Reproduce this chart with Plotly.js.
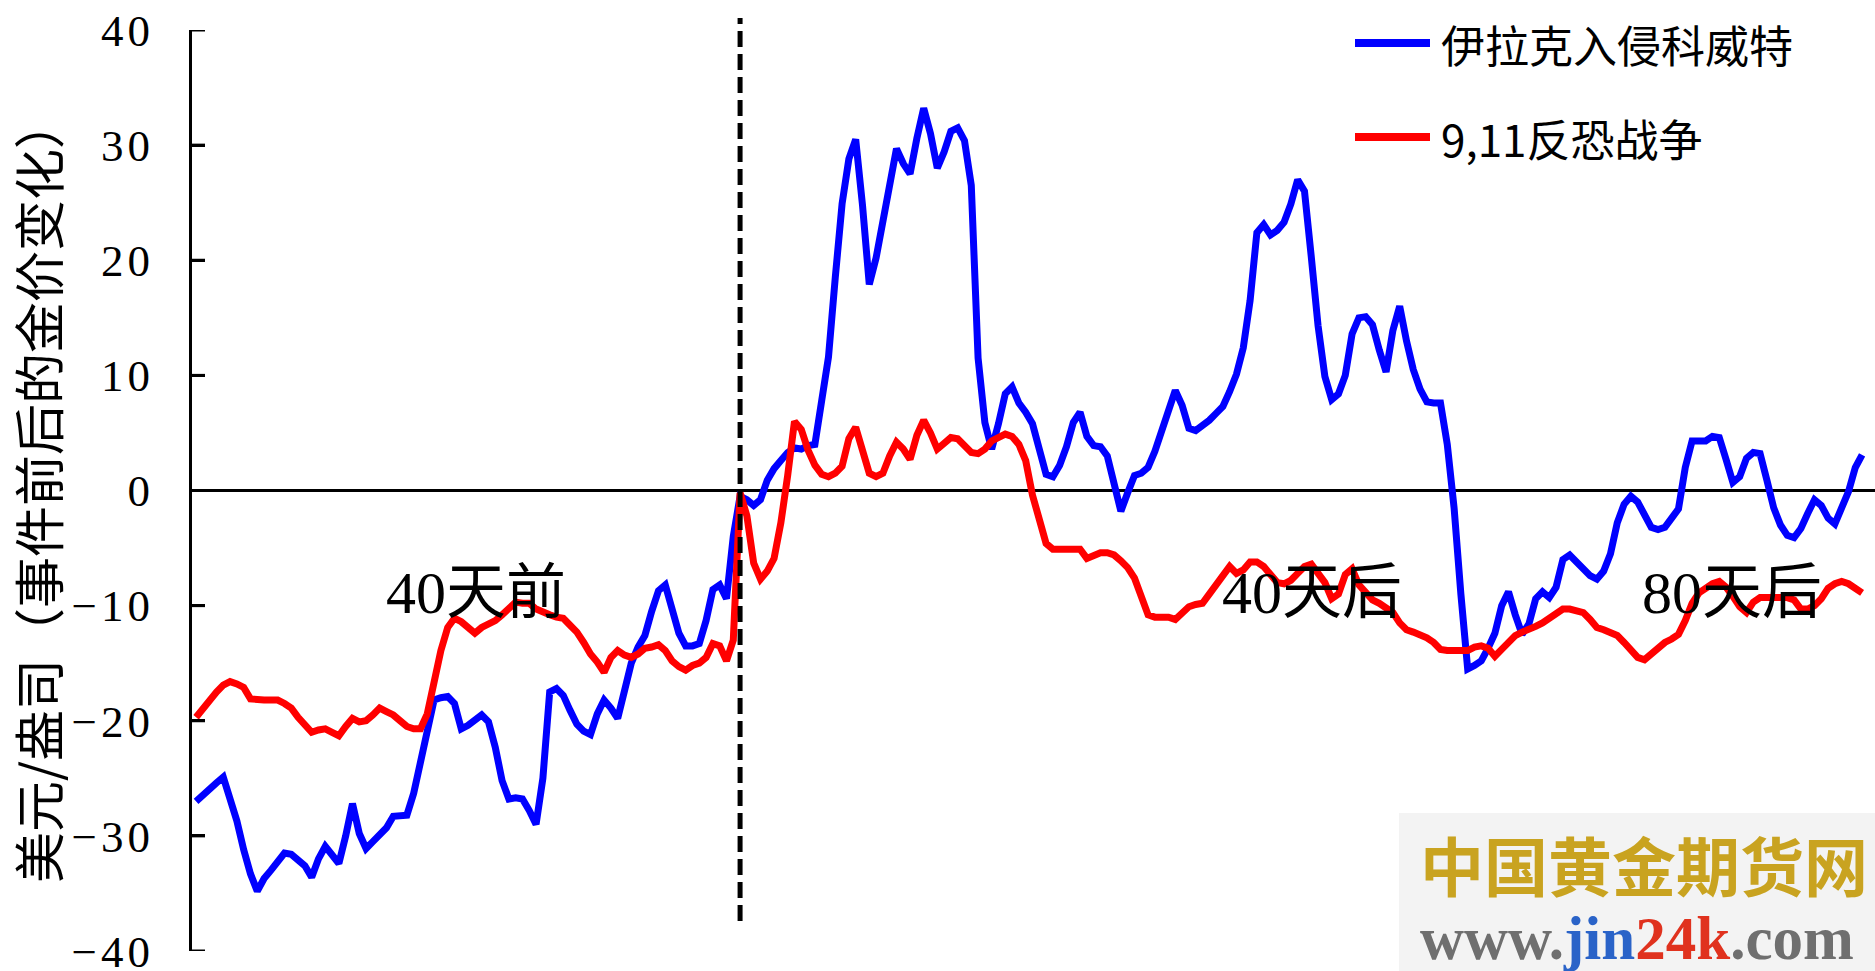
<!DOCTYPE html>
<html>
<head>
<meta charset="utf-8">
<script src="https://cdn.plot.ly/plotly-3.0.1.min.js"></script>
<style>
  html, body { margin: 0; padding: 0; background: #ffffff; }
  #chart { width: 1875px; height: 971px; }
  .yaxislayer-above text { letter-spacing: 4px; }
</style>
</head>
<body>
<div id="chart"></div>
<script>
// ---- data ----
// day offset of the first sample relative to the event (dashed line = day 0)
const firstDay = -80;

const seriesNames = ['伊拉克入侵科威特', '9,11反恐战争'];
const seriesColors = ['#0000ff', '#ff0000'];

// Iraq invades Kuwait: gold price change (USD/oz) around the event
const iraqKuwait = [
  -27.0, -26.4, -25.9, -25.4, -24.9, -26.6, -28.7, -31.2, -33.3, -34.8,
  -33.7, -33.0, -32.3, -31.5, -31.6, -32.1, -32.6, -33.6, -32.0, -30.9,
  -31.7, -32.4, -30.0, -27.2, -29.8, -31.1, -30.5, -29.8, -29.3, -28.3,
  -28.3, -28.2, -26.3, -23.4, -20.5, -18.2, -18.0, -17.9, -18.5, -20.7,
  -20.4, -20.0, -19.5, -20.1, -22.3, -25.2, -26.8, -26.7, -26.8, -27.8,
  -29.0, -25.0, -17.5, -17.2, -17.8, -19.1, -20.3, -20.9, -21.2, -19.4,
  -18.2, -18.9, -19.8, -17.4, -15.0, -13.6, -12.6, -10.5, -8.7, -8.2,
  -10.1, -12.4, -13.5, -13.5, -13.3, -11.3, -8.6, -8.2, -9.4, -4.0,
  -0.5, -0.8, -1.3, -0.8, 0.9, 1.9, 2.6, 3.3, 3.7, 3.6, 3.9,
  4.0, 7.8, 11.6, 18.5, 24.9, 28.8, 30.5, 24.8, 17.9, 20.2,
  23.6, 26.9, 29.7, 28.4, 27.5, 30.6, 33.2, 31.0, 28.0, 29.4,
  31.2, 31.5, 30.4, 26.5, 11.5, 5.9, 3.6, 5.8, 8.4, 9.0,
  7.6, 6.8, 5.8, 3.6, 1.4, 1.2, 2.2, 3.8, 5.9, 6.8,
  4.7, 3.9, 3.8, 3.0, 0.3, -1.8, -0.2, 1.3, 1.5, 2.0,
  3.4, 5.3, 7.3, 8.7, 7.4, 5.4, 5.2, 5.6, 6.1, 6.7,
  7.3, 8.6, 10.1, 12.4, 16.5, 22.4, 23.1, 22.2, 22.6, 23.3,
  24.9, 27.0, 26.0, 20.3, 14.3, 9.9, 7.9, 8.4, 10.0, 13.6,
  15.0, 15.1, 14.4, 12.2, 10.3, 13.9, 16.0, 13.0, 10.5, 8.8,
  7.7, 7.6, 7.6, 4.0, -1.5, -9.0, -15.5, -15.2, -14.8, -13.7,
  -12.4, -10.0, -8.8, -10.8, -12.5, -11.6, -9.4, -8.8, -9.3, -8.4,
  -6.0, -5.6, -6.2, -6.8, -7.4, -7.7, -7.0, -5.5, -2.8, -1.2,
  -0.5, -1.0, -2.1, -3.2, -3.4, -3.2, -2.4, -1.6, 2.0, 4.3,
  4.3, 4.3, 4.7, 4.6, 2.7, 0.7, 1.2, 2.8, 3.3, 3.2,
  0.9, -1.5, -3.0, -3.9, -4.1, -3.3, -2.0, -0.8, -1.3, -2.4,
  -2.9, -1.6, -0.1, 2.0, 3.1
];

// 9.11 anti-terror war: gold price change (USD/oz) around the event
const antiTerror = [
  -19.7, -18.9, -18.2, -17.5, -16.9, -16.6, -16.8, -17.1, -18.1, -18.2,
  -18.2, -18.2, -18.2, -18.5, -18.9, -19.7, -20.4, -21.0, -20.8, -20.7,
  -21.0, -21.3, -20.5, -19.8, -20.1, -20.0, -19.5, -18.9, -19.2, -19.5,
  -20.0, -20.5, -20.7, -20.7, -19.4, -16.5, -13.9, -11.9, -11.1, -11.4,
  -12.0, -12.4, -11.9, -11.6, -11.3, -10.8, -10.3, -9.7, -9.8, -9.8,
  -10.3, -10.6, -10.8, -11.0, -11.1, -11.7, -12.3, -13.2, -14.2, -14.9,
  -15.8, -14.5, -13.9, -14.3, -14.5, -14.2, -13.7, -13.6, -13.4, -13.9,
  -14.8, -15.3, -15.6, -15.2, -15.0, -14.5, -13.3, -13.5, -14.8, -13.0,
  -0.2, -2.2, -6.3, -7.7, -7.0, -5.9, -2.8, 1.3, 6.0, 5.3, 3.5,
  2.2, 1.4, 1.2, 1.5, 2.1, 4.5, 5.5, 3.5, 1.5, 1.2,
  1.5, 3.0, 4.2, 3.6, 2.7, 4.8, 6.1, 5.0, 3.6, 4.1,
  4.6, 4.5, 3.8, 3.3, 3.2, 3.6, 4.3, 4.6, 4.9, 4.7,
  4.0, 2.6, -0.4, -2.5, -4.6, -5.1, -5.1, -5.1, -5.1, -5.1,
  -5.9, -5.6, -5.4, -5.4, -5.6, -6.1, -6.7, -7.6, -9.2, -10.8,
  -11.0, -11.0, -11.0, -11.2, -10.7, -10.1, -9.9, -9.8, -9.0, -8.2,
  -7.4, -6.6, -7.2, -6.9, -6.2, -6.2, -6.6, -7.4, -8.0, -8.1,
  -7.8, -7.2, -6.6, -6.4, -7.3, -8.0, -9.4, -9.0, -7.3, -6.8,
  -8.2, -8.9, -9.5, -9.8, -10.2, -10.6, -11.5, -12.1, -12.3, -12.5,
  -12.8, -13.2, -13.8, -13.9, -13.9, -13.9, -13.9, -13.6, -13.5, -13.7,
  -14.4, -13.8, -13.1, -12.6, -12.3, -12.1, -11.8, -11.5, -11.1, -10.7,
  -10.3, -10.3, -10.4, -10.6, -11.2, -11.9, -12.1, -12.3, -12.6, -13.2,
  -13.8, -14.5, -14.7, -14.2, -13.7, -13.2, -12.9, -12.5, -11.3, -9.8,
  -8.9, -8.5, -8.1, -7.9, -8.4, -9.2, -10.1, -10.6, -9.7, -9.3,
  -9.3, -9.3, -9.3, -9.3, -9.5, -10.3, -10.3, -10.0, -9.4, -8.5,
  -8.1, -7.9, -8.1, -8.5, -8.9
];

const phaseLabels = ['40天前', '40天后', '80天后'];
const yTickValues = [-40, -30, -20, -10, 0, 10, 20, 30, 40];
const yTitle = '美元/盎司（事件前后的金价变化）';
const watermarkTitle = '中国黄金期货网';

// ---- build chart ----
const days = iraqKuwait.map((_, i) => firstDay + i);
const seriesValues = [iraqKuwait, antiTerror];

const traces = seriesValues.map((vals, k) => ({
  type: 'scatter',
  mode: 'lines',
  name: seriesNames[k],
  x: days,
  y: vals,
  line: { color: seriesColors[k], width: 7 },
  hoverinfo: 'x+y+name'
}));

// plot-area geometry (px) used to place layout items in paper units
const W = 1875, H = 971, mL = 192, mR = 0, mT = 30, mB = 20;
const pw = W - mL - mR, ph = H - mT - mB;
const px = v => (v - mL) / pw;
const py = v => (H - mB - v) / ph;

const cjk = '"Noto Sans CJK SC", sans-serif';
const serifCjk = '"Liberation Serif", "Noto Sans CJK SC", serif';

const shapes = [
  // event day marker
  { type: 'line', xref: 'x', yref: 'paper', x0: 0, x1: 0, y0: py(921), y1: py(18),
    line: { color: '#000000', width: 5, dash: '16px,7px' } },
  // watermark backdrop
  { type: 'rect', xref: 'paper', yref: 'paper', x0: px(1399), x1: px(1875), y0: py(971), y1: py(813),
    fillcolor: '#f3f3f3', line: { width: 0 }, layer: 'below' }
];

// inward tick marks on the value axis (placed on the y scale)
yTickValues.forEach(v => {
  shapes.push({ type: 'line', xref: 'paper', yref: 'y', x0: 0, x1: 13 / pw, y0: v, y1: v,
    line: { color: '#000000', width: 3 } });
});

const annotations = [];
// legend (manual, long line keys like the reference)
const legendY = [43, 137];
seriesNames.forEach((name, k) => {
  shapes.push({ type: 'line', xref: 'paper', yref: 'paper',
    x0: px(1355), x1: px(1430), y0: py(legendY[k]), y1: py(legendY[k]),
    line: { color: seriesColors[k], width: 8 } });
  annotations.push({ xref: 'paper', yref: 'paper', x: px(1439), y: py(legendY[k] + 1),
    xanchor: 'left', yanchor: 'middle', showarrow: false, text: name,
    font: { family: cjk, size: 44, color: '#000000' } });
});

// phase labels
const phaseX = [-38.8, 84.1, 145.9];
phaseLabels.forEach((t, k) => {
  annotations.push({ xref: 'x', yref: 'paper', x: phaseX[k], y: py(593),
    xanchor: 'center', yanchor: 'middle', showarrow: false, text: t,
    font: { family: serifCjk, size: 60, color: '#000000' } });
});

// watermark text
annotations.push({ xref: 'paper', yref: 'paper', x: px(1418), y: py(863),
  xanchor: 'left', yanchor: 'middle', showarrow: false, text: '<b>' + watermarkTitle + '</b>',
  font: { family: cjk, size: 64, color: '#c9a320' } });
annotations.push({ xref: 'paper', yref: 'paper', x: px(1418), y: py(938),
  xanchor: 'left', yanchor: 'middle', showarrow: false,
  text: '<b><span style="color:#6f6f6f">www.</span><span style="color:#2a63c8">jin</span>' +
        '<span style="color:#e0321e">24k</span><span style="color:#6f6f6f">.com</span></b>',
  font: { family: '"Liberation Serif", serif', size: 61, color: '#6f6f6f' } });

const layout = {
  width: W, height: H,
  margin: { l: mL, r: mR, t: mT, b: mB, pad: 0 },
  paper_bgcolor: '#ffffff',
  plot_bgcolor: '#ffffff',
  showlegend: false,
  xaxis: {
    range: [-80.6, 166.9],
    visible: false,
    showgrid: false,
    zeroline: false,
    fixedrange: true
  },
  yaxis: {
    range: [-40, 40],
    tickvals: yTickValues,
    ticks: 'inside',
    ticklen: 13,
    tickwidth: 3,
    tickcolor: '#000000',
    showline: true,
    linecolor: '#000000',
    linewidth: 3,
    showgrid: false,
    zeroline: true,
    zerolinecolor: '#000000',
    zerolinewidth: 2.5,
    ticklabelstandoff: 26,
    ticklabeloverflow: 'allow',
    tickfont: { family: '"Liberation Serif", serif', size: 45, color: '#000000' },
    title: { text: yTitle, standoff: 19, font: { family: cjk, size: 51, color: '#000000' } },
    automargin: false,
    fixedrange: true
  },
  shapes: shapes,
  annotations: annotations
};

Plotly.newPlot('chart', traces, layout, { displayModeBar: false, staticPlot: true });
</script>
</body>
</html>
